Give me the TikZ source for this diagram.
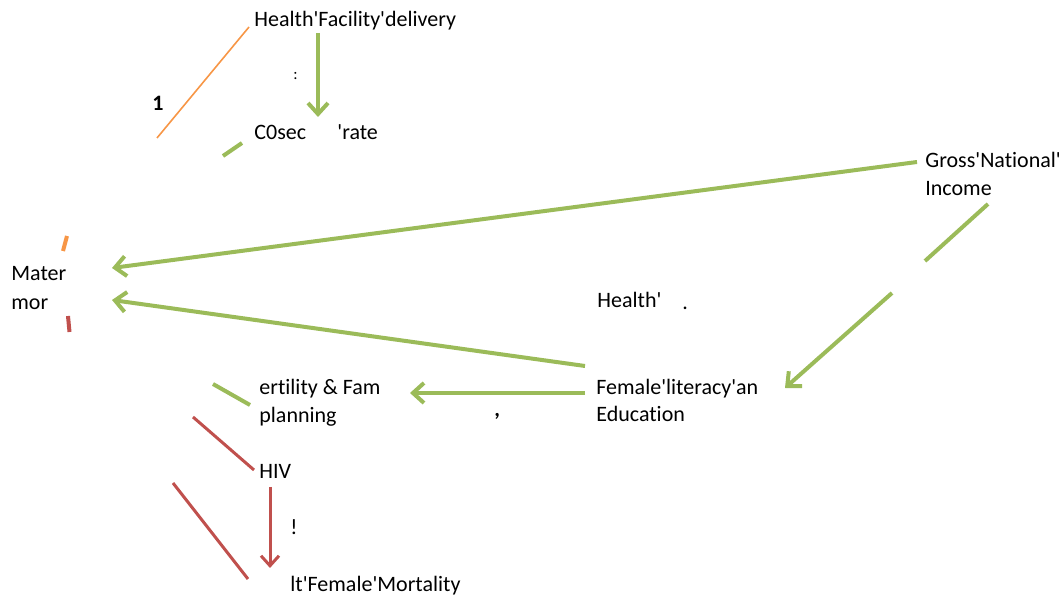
\documentclass[tikz,border=0pt]{standalone}
\usepackage{fontspec}
\setmainfont{Carlito}[Ligatures={TeXOff,CommonOff}]
\usepackage{xcolor}
\usepackage{tikz}
\usetikzlibrary{arrows.meta,positioning}

\definecolor{offgreen}{HTML}{9BBB59}
\definecolor{offred}{HTML}{C0504D}
\definecolor{offorange}{HTML}{F79646}

\begin{document}
\begin{tikzpicture}[
  x=0.5pt, y=-0.5pt,
  every node/.style={font=\fontsize{11}{13.5}\selectfont, inner sep=0pt, anchor=base west},
  greenline/.style={draw=offgreen, line width=2pt},
  greenarrow/.style={greenline, -{Straight Barb[length=5.5pt,width=10pt]}},
  redline/.style={draw=offred, line width=1.5pt},
  redarrow/.style={redline, -{Straight Barb[length=5pt,width=9pt]}},
  orangeline/.style={draw=offorange, line width=0.8pt}
]
\useasboundingbox (0,0) rectangle (1062,598);

% Labels
\node (hfd) at (254,27) {Health'Facility'delivery};
\node (csec) at (254,140) {C0sec};
\node (rate) at (337,140) {'rate};
\node (gni) at (925,168) {Gross'National'};
\node (income) at (925,196) {Income};
\node (mater) at (11,281) {Mater};
\node (mor) at (11,310) {mor};
\node (health) at (597,308) {Health'};
\node (dot) at (682,310) {.};
\node (fert) at (259,395) {ertility \& Fam};
\node (plan) at (259,423) {planning};
\node (flit) at (596,395) {Female'literacy'an};
\node (edu) at (596,422) {Education};
\node (hiv) at (259,479) {HIV};
\node (afm) at (290,592) {lt'Female'Mortality};
\node[font=\bfseries\fontsize{11}{13}\selectfont] (one) at (152,111) {1};
\node[font=\fontsize{8}{9}\selectfont] (colon) at (293,80) {:};
\node (bang) at (290,535) {!};
\node[font=\bfseries\fontsize{11}{13}\selectfont] (hook) at (494,417) {,};

% Connector ends
\coordinate (hfdS) at (318,33);
\coordinate (csecN) at (318,117);
\coordinate (gniW) at (917,162);
\coordinate (maternA) at (112,268);
\coordinate (flitW) at (585,366);
\coordinate (maternB) at (112,300);
\coordinate (flitL) at (585,393);
\coordinate (fertE) at (410,393);
\coordinate (incS) at (988,204);
\coordinate (incG) at (925,261);
\coordinate (incH) at (892,293);
\coordinate (flitE) at (785,388);
\coordinate (hivS) at (270,487);
\coordinate (afmN) at (270,568);

% Green arrows
\draw[greenarrow] (hfdS) -- (csecN);
\draw[greenarrow] (gniW) -- (maternA);
\draw[greenarrow] (flitW) -- (maternB);
\draw[greenarrow] (flitL) -- (fertE);
\draw[greenline] (incS) -- (incG);
\draw[greenarrow] (incH) -- (flitE);
\draw[greenline] (242,143) -- (223,156);
\draw[greenline] (213,384) -- (250,405);

% Red lines
\draw[redline] (193,417) -- (254,470);
\draw[redline] (173,483) -- (248,579);
\draw[redarrow] (hivS) -- (afmN);
\draw[draw=offred, line width=2pt] (68,316) -- (69.5,332);

% Orange lines
\draw[orangeline] (249,27) -- (157,138);
\draw[draw=offorange, line width=2pt] (63,251) -- (67,236);

\end{tikzpicture}
\end{document}
